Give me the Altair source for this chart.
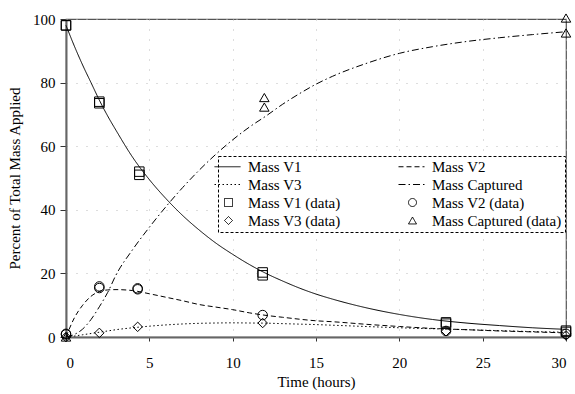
import altair as alt
import pandas as pd

# ---- model curves ----
t_model = [0, 0.5, 1, 1.5, 2, 2.5, 3, 4, 5, 6, 7, 8, 9, 10, 11, 12, 13, 14, 15, 16, 18, 20, 22, 24, 26, 28, 30]
v1_model = [98, 91.5, 85.5, 80, 74.5, 69.5, 65, 56.5, 49.5, 43.5, 38.2, 33.6, 29.5, 26, 22.8, 20, 17.6, 15.4, 13.5, 11.9, 9.2, 7.1, 5.5, 4.4, 3.6, 2.9, 2.4]
v2_model = [0, 6, 10, 12.8, 14.3, 14.8, 14.9, 14.6, 13.6, 12.5, 11.4, 10.2, 9.4, 8.6, 7.6, 6.8, 6.2, 5.6, 5.1, 4.8, 4.0, 3.3, 2.7, 2.3, 1.9, 1.6, 1.3]
v3_model = [0, 0.3, 0.7, 1.1, 1.5, 1.9, 2.3, 2.9, 3.4, 3.8, 4.1, 4.3, 4.4, 4.45, 4.4, 4.35, 4.2, 4.05, 3.9, 3.7, 3.3, 2.9, 2.6, 2.3, 2.0, 1.7, 1.5]
cap_model = [0, 0.8, 2.5, 5.5, 9.5, 14, 19.5, 27.5, 34.5, 41, 47, 52.5, 57.5, 62, 66, 69.5, 73.2, 76.5, 79.5, 82, 86, 89.2, 91.3, 92.9, 94.1, 95.1, 96]

# ---- observed data (two replicates where visible) ----
t_v1 = [0, 2.0, 4.4, 11.8, 22.8, 30, 0, 2.0, 4.4, 11.8, 22.8, 30]
v1_obs = [98, 74, 52, 20.3, 4.6, 2.0, 98, 73.5, 51, 19.4, 4.2, 1.6]
t_v2 = [0, 2.0, 4.3, 11.8, 22.8, 30, 0, 2.0, 4.3]
v2_obs = [1.0, 15.9, 15.3, 6.9, 1.9, 1.0, 0.8, 15.4, 15.0]
t_v3 = [0, 2.0, 4.3, 11.8, 22.8, 30]
v3_obs = [0, 1.3, 3.2, 4.4, 1.8, 0.5]
t_cap = [0, 11.9, 11.9, 30, 30]
cap_obs = [0, 75.3, 72.3, 100.3, 95.6]

line_names = ["Mass V1", "Mass V2", "Mass V3", "Mass Captured"]
data_names = ["Mass V1 (data)", "Mass V2 (data)", "Mass V3 (data)", "Mass Captured (data)"]

# legend fills column by column: left column first, then right column
legend_order = ["Mass V1", "Mass V3", "Mass V1 (data)", "Mass V3 (data)",
                "Mass V2", "Mass Captured", "Mass V2 (data)", "Mass Captured (data)"]

line_path = "M-3.5,0H3"
shape_of = {"Mass V1": line_path, "Mass V2": line_path, "Mass V3": line_path, "Mass Captured": line_path,
            "Mass V1 (data)": "square", "Mass V2 (data)": "circle",
            "Mass V3 (data)": "diamond", "Mass Captured (data)": "triangle-up"}
dash_of = {"Mass V1": [1, 0], "Mass V2": [5, 3], "Mass V3": [1.5, 2.5], "Mass Captured": [7, 3, 1.5, 3],
           "Mass V1 (data)": [1, 0], "Mass V2 (data)": [1, 0],
           "Mass V3 (data)": [1, 0], "Mass Captured (data)": [1, 0]}
shape_range = [shape_of[n] for n in legend_order]
dash_range = [dash_of[n] for n in legend_order]

rows = []
for nm, vals in zip(line_names, [v1_model, v2_model, v3_model, cap_model]):
    for t, v in zip(t_model, vals):
        rows.append({"t": t, "v": v, "series": nm})
lines_df = pd.DataFrame(rows)

prow = []
for nm, ts, vals in zip(data_names, [t_v1, t_v2, t_v3, t_cap], [v1_obs, v2_obs, v3_obs, cap_obs]):
    for t, v in zip(ts, vals):
        prow.append({"t": t, "v": v, "series": nm})
pts_df = pd.DataFrame(prow)

FONT = "Liberation Serif"

legend = alt.Legend(
    title=None, orient="none", legendX=152, legendY=137, columns=2,
    symbolSize=64, labelOffset=12, columnPadding=55, rowPadding=2,
    labelFont=FONT, labelFontSize=15, labelColor="black", labelLimit=300,
    symbolStrokeColor="black", symbolStrokeWidth=1,
)

xenc = alt.X("t:Q", scale=alt.Scale(domain=[0, 30], nice=False),
             axis=alt.Axis(title="Time (hours)", values=[0, 5, 10, 15, 20, 25, 30],
                           tickSize=4, labelPadding=14, titlePadding=4))
yenc = alt.Y("v:Q", scale=alt.Scale(domain=[0, 100], nice=False),
             axis=alt.Axis(title="Percent of Total Mass Applied", values=[0, 20, 40, 60, 80, 100],
                           tickSize=6, labelPadding=5, titlePadding=10))

lines = alt.Chart(lines_df).mark_line(color="black", strokeWidth=1, interpolate="monotone").encode(
    x=xenc, y=yenc,
    strokeDash=alt.StrokeDash("series:N", scale=alt.Scale(domain=legend_order, range=dash_range), legend=legend),
)

points = alt.Chart(pts_df).mark_point(filled=False, color="black", strokeWidth=1, size=90, opacity=1).encode(
    x=xenc, y=yenc,
    shape=alt.Shape("series:N", scale=alt.Scale(domain=legend_order, range=shape_range), legend=legend),
)

chart = alt.layer(lines, points).properties(
    width=500, height=318,
    autosize=alt.AutoSizeParams(type="none"),
    padding={"left": 66, "top": 19, "right": 9, "bottom": 57},
    background="white",
).configure_view(stroke="#555", strokeWidth=1.2).configure_axis(
    labelFont=FONT, labelFontSize=15, labelColor="black",
    titleFont=FONT, titleFontSize=15, titleFontWeight="normal", titleColor="black",
    domainColor="#666", domainWidth=2, tickColor="#333",
    gridColor="#bbbbbb", gridDash=[1, 9], gridWidth=1,
).configure_legend(
    strokeColor="black", strokeDash=[3, 2], fillColor="white", padding=3, cornerRadius=0,
    symbolFillColor="transparent",
)

chart.save("out.html", embed_options={"renderer": "svg", "actions": False})
